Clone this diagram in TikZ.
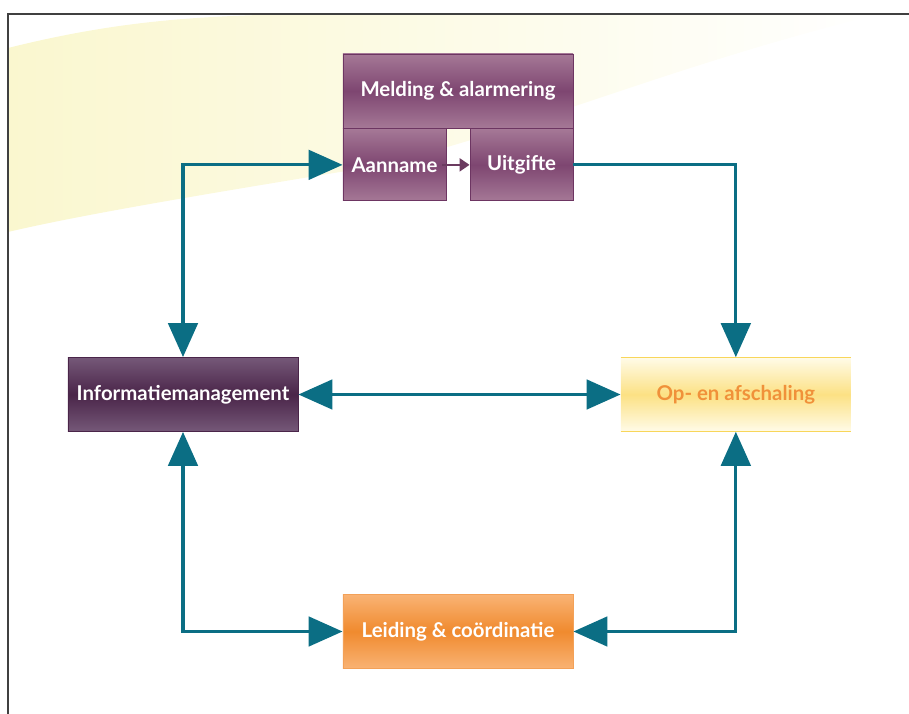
\documentclass[tikz,border=0pt]{standalone}
\usepackage{fontspec}
\setmainfont{Lato}
\usetikzlibrary{positioning,arrows.meta}

\definecolor{linkteal}{HTML}{0B6E84}
\definecolor{plumlight}{HTML}{A57896}
\definecolor{plumdark}{HTML}{7E4671}
\definecolor{plumedge}{HTML}{6D3562}
\definecolor{auberlight}{HTML}{755878}
\definecolor{auberdark}{HTML}{4A2549}
\definecolor{sunlight}{HTML}{FFFBE8}
\definecolor{sundark}{HTML}{FCE184}
\definecolor{sunedge}{HTML}{F8D65A}
\definecolor{sunfont}{HTML}{F0913A}
\definecolor{orangelight}{HTML}{F9B374}
\definecolor{orangedark}{HTML}{F08A2E}
\definecolor{swoosh}{HTML}{FAF7CF}

\tikzset{
	box/.style={rectangle, inner sep=0pt, minimum width=5.75cm, minimum height=1.85cm,
		font=\fontsize{14.5}{16}\selectfont\bfseries, text=white},
	halfbox/.style={box, minimum width=2.575cm, minimum height=1.8cm},
	plum/.style={top color=plumlight, bottom color=plumlight, middle color=plumdark,
		draw=plumedge, line width=0.6pt},
	auber/.style={top color=auberlight, bottom color=auberlight, middle color=auberdark,
		draw=auberdark, line width=0.6pt},
	sun/.style={top color=sunlight, bottom color=sunlight, middle color=sundark, text=sunfont},
	orange/.style={top color=orangelight, bottom color=orangelight,
		middle color=orangedark, draw=orangedark!80!white, line width=0.6pt},
	link/.style={linkteal, line width=2.2pt,
		{Triangle[length=0.85cm,width=0.74cm]}-{Triangle[length=0.85cm,width=0.74cm]}},
}

\begin{document}
\begin{tikzpicture}[x=0.025cm, y=-0.025cm]
	\useasboundingbox (0,0) rectangle (909,714);

	% pale background band
	\shade[left color=swoosh, middle color=swoosh, right color=white]
		(8,48) .. controls (120,20) and (200,16) .. (300,14) -- (880,14)
		.. controls (650,70) and (480,150) .. (340,172)
		.. controls (200,195) and (80,215) .. (8,232) -- cycle;
	\draw[line width=1.4pt, black!75] (8,714) -- (8,14) -- (909,14);

	% boxes
	\node (melding) [box, plum] at (458,91) {Melding \& alarmering};
	\node (aanname) [halfbox, plum, below right=0pt of melding.south west] {Aanname};
	\node (uitgifte) [halfbox, plum, below left=0pt of melding.south east] {Uitgifte};
	\node (info) [box, auber] at (183,394.5) {Informatiemanagement};
	\node (opaf) [box, sun, right=8.05cm of info] {Op- en afschaling};
	\node (leiding) [box, orange] at (458,631.5) {Leiding \& coördinatie};
	\draw[sunedge, line width=0.8pt] (opaf.north west) -- (opaf.north east);
	\draw[sunedge, line width=0.8pt] (opaf.south west) -- (opaf.south east);

	% connectors
	\draw[-{Triangle[length=7pt,width=9pt]}, plumdark!85!black, line width=1.8pt]
		([xshift=-3pt]aanname.east) -- (uitgifte.west);
	\draw[link] (info.north) |- (aanname.west);
	\draw[link, -{Triangle[length=0.85cm,width=0.74cm]}] (uitgifte.east) -| (opaf.north);
	\draw[link] (info.east) -- (opaf.west);
	\draw[link] (info.south) |- (leiding.west);
	\draw[link] (opaf.south) |- (leiding.east);
\end{tikzpicture}
\end{document}
